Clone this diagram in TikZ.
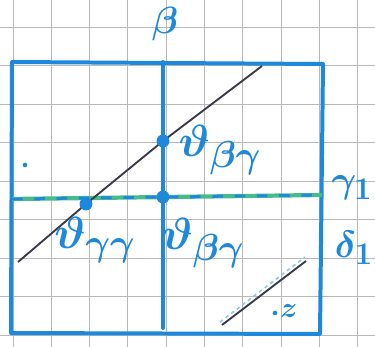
\documentclass[tikz,border=0pt]{standalone}
\usepackage{amsmath}
\usetikzlibrary{calc}
\definecolor{inkblue}{RGB}{30,136,220}
\definecolor{inkgreen}{RGB}{72,186,140}
\definecolor{inkdark}{RGB}{58,58,72}
\definecolor{paleblue}{RGB}{140,200,235}
\newcommand{\bigtag}[1]{\scalebox{1.55}{#1}}
\newcommand{\sidetext}[1]{\scalebox{1.3}{#1}}

\begin{document}
\begin{tikzpicture}[x=0.03cm, y=-0.03cm,
        % Define the styles for the sketch
        point/.style={fill=inkblue, circle, minimum size=11pt, inner sep=0pt},
        tinypoint/.style={fill=inkblue, circle, minimum size=4pt, inner sep=0pt},
        frame/.style={draw=inkblue, line width=3.4pt, line cap=round, line join=round},
        tag/.style={text=inkblue, inner sep=0pt, font=\Huge\boldmath},
        sidetag/.style={text=inkblue, inner sep=0pt, font=\Huge\boldmath}]

        % 1. Paper with grid
        \fill[white] (0,0) rectangle (375,347);
        \useasboundingbox (0,0) rectangle (375,347);
        \foreach \k in {0,...,9}
            \draw[gray!55, line width=0.8pt] ({13+38.3*\k},0) -- ({13+38.3*\k},347);
        \foreach \k in {0,...,8}
            \draw[gray!55, line width=0.8pt] (0,{27+38.5*\k}) -- (375,{27+38.5*\k});

        % 2. Define the coordinates
        \coordinate (TL) at (12, 62);
        \coordinate (TR) at (323, 64);
        \coordinate (BR) at (320, 334);
        \coordinate (BL) at (11, 333);
        \coordinate (B1) at (163, 62);  % vertical line
        \coordinate (B2) at (163, 328);
        \coordinate (G1) at (12, 199);  % horizontal line
        \coordinate (G2) at (322, 195);
        \coordinate (D1) at (18, 262);  % diagonal line
        \coordinate (D2) at (262, 66);
        \coordinate (E1) at (222, 325); % short diagonal
        \coordinate (E2) at (306, 261);
        \coordinate (Pgg) at (86, 204);
        \coordinate (Pbt) at (163, 141);

        % 3. Draw the frame and the lines
        \draw[frame] (TL) -- (TR) -- (BR) -- (BL) -- cycle;
        \draw[frame] (B1) -- (B2);
        \draw[inkgreen, line width=3.6pt] (G1) -- (G2);
        \draw[inkblue, line width=2.4pt, dash pattern=on 9pt off 10pt] (G1) -- (G2);
        \draw[inkdark, line width=1.6pt] (D1) -- (Pgg) -- (Pbt) -- (D2);
        \draw[paleblue, line width=1.4pt, dashed] ($(E1)+(-2,-3)$) -- ($(E2)+(-1,-4)$);
        \draw[inkdark, line width=1.6pt] (E1) -- (E2);

        % 4. Mark the points on the lines
        \node[point] (pgg) at (Pgg) {};
        \node[point] (pbg) at (163, 197) {};
        \node[point] (pbt) at (Pbt) {};
        \node[tinypoint] (dotl) at (25, 165) {};
        \node[tinypoint] (dotz) at (275, 313) {};

        % 5. Labels
        \node[tag] (lbt) at (220, 150) {\bigtag{$\vartheta_{\beta\gamma}$}};
        \node[tag] (lgg) at (95, 240) {\bigtag{$\vartheta_{\gamma\gamma}$}};
        \node[tag] (lbg) at (203, 243) {\bigtag{$\vartheta_{\beta\gamma}$}};
        \node[sidetag] (lg1) at (352, 188) {\sidetext{$\gamma_1$}};
        \node[sidetag] (ld1) at (354, 248) {\sidetext{$\delta_1$}};
        \node[sidetag] (lb) at (165, 24) {\sidetext{$\beta$}};
        \node[sidetag, anchor=west] (lz) at (280, 311) {$z$};
    \end{tikzpicture}
\end{document}
